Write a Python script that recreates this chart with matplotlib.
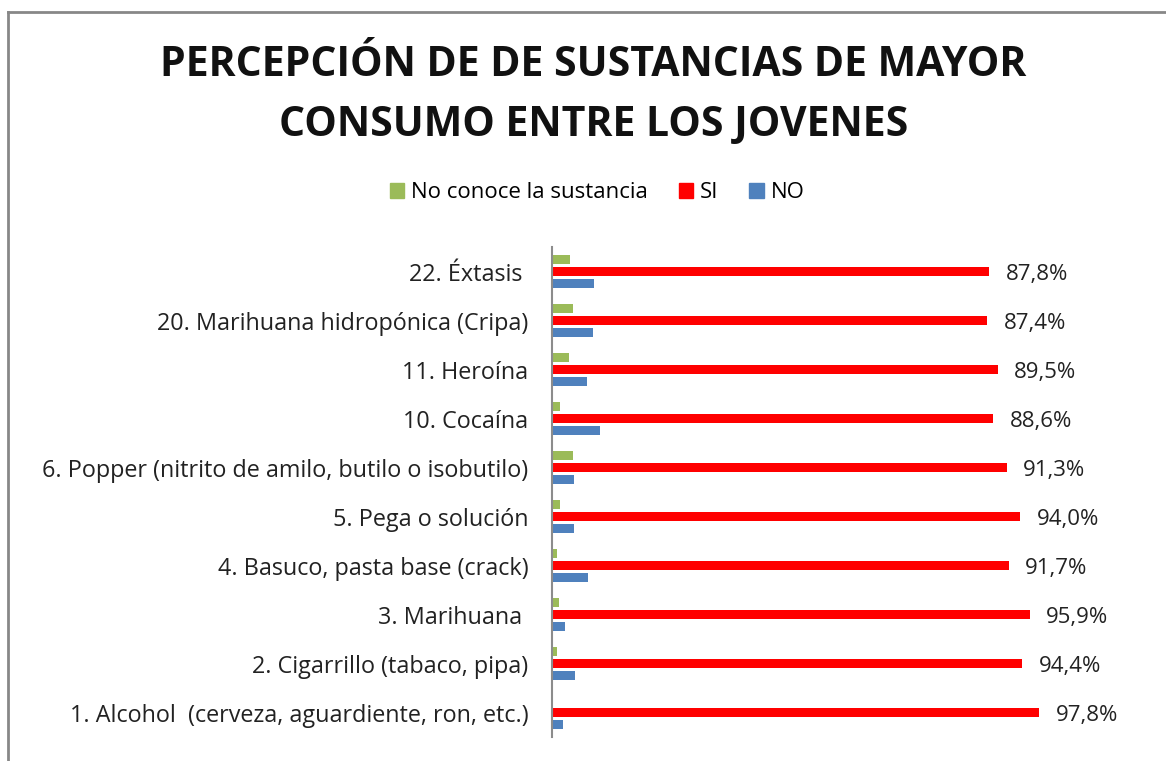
import matplotlib
matplotlib.use("Agg")
import matplotlib.pyplot as plt
from matplotlib.lines import Line2D
from matplotlib.patches import Patch
import numpy as np

plt.rcParams['font.family'] = ['Open Sans', 'DejaVu Sans']

categorias = [
    "1. Alcohol  (cerveza, aguardiente, ron, etc.)",
    "2. Cigarrillo (tabaco, pipa)",
    "3. Marihuana ",
    "4. Basuco, pasta base (crack)",
    "5. Pega o solución",
    "6. Popper (nitrito de amilo, butilo o isobutilo)",
    "10. Cocaína",
    "11. Heroína",
    "20. Marihuana hidropónica (Cripa)",
    "22. Éxtasis ",
]
no_conoce = [0.0, 1.0, 1.5, 1.0, 1.6, 4.3, 1.7, 3.4, 4.3, 3.7]
si = [97.8, 94.4, 95.9, 91.7, 94.0, 91.3, 88.6, 89.5, 87.4, 87.8]
no = [2.2, 4.6, 2.6, 7.3, 4.4, 4.4, 9.7, 7.1, 8.3, 8.5]

verde, rojo, azul = '#9BBB59', '#FF0000', '#4F81BD'
fs = 16

fig = plt.figure(figsize=(11.66, 7.61), dpi=100)
ax = fig.add_axes([0.4734, 0.0315, 0.47, 0.6439])

y = np.arange(len(categorias))
off = 0.245
h = 0.2
ax.barh(y + off, no_conoce, height=h, color=verde)
ax.barh(y, si, height=h, color=rojo)
ax.barh(y - off, no, height=h, color=azul)

for yi, v in zip(y, si):
    ax.text(v + 3.3, yi - 0.06, f"{v:.1f}%".replace('.', ','), va='center', ha='left',
            fontsize=fs, color='#222222')

ax.set_xlim(0, 110)
ax.set_ylim(-0.5, len(categorias) - 0.5)
ax.set_yticks(y)
ax.set_yticklabels(categorias, fontsize=16.8, color='#222222')
ax.tick_params(axis='y', length=0, pad=17)
ax.set_xticks([])
for s in ['top', 'right', 'bottom']:
    ax.spines[s].set_visible(False)
ax.spines['left'].set_color('#8C8C8C')
ax.spines['left'].set_linewidth(1.5)

fig.text(0.509, 1 - 66 / 761, "PERCEPCIÓN DE DE SUSTANCIAS DE MAYOR",
         ha='center', va='center', fontsize=29.5, fontweight='bold', color='#111111')
fig.text(0.509, 1 - 126 / 761, "CONSUMO ENTRE LOS JOVENES",
         ha='center', va='center', fontsize=29.5, fontweight='bold', color='#111111')

handles = [Patch(color=verde), Patch(color=rojo), Patch(color=azul)]
fig.legend(handles, ["No conoce la sustancia", "SI", "NO"], loc='center',
           bbox_to_anchor=(0.512, 1 - 193 / 761), ncol=3, frameon=False, fontsize=fs,
           handlelength=0.65, handleheight=0.65, handletextpad=0.3, columnspacing=1.4)

# borde gris del cuadro del gráfico (izquierda y arriba)
fig.add_artist(Line2D([8 / 1166, 8 / 1166], [0, 1 - 12 / 761], transform=fig.transFigure,
                      color='#878787', lw=2))
fig.add_artist(Line2D([8 / 1166, 1], [1 - 12 / 761, 1 - 12 / 761], transform=fig.transFigure,
                      color='#878787', lw=2))

fig.savefig("out.png", dpi=100)
